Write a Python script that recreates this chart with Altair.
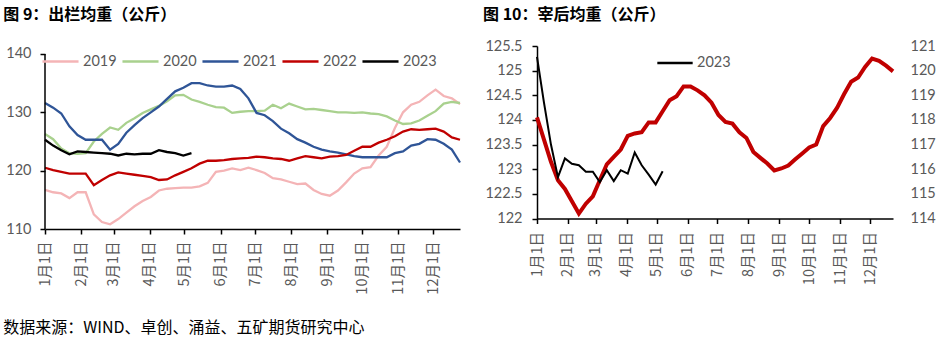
import json
import altair as alt
import pandas as pd

# ---------------- data ----------------
years = ["2019", "2020", "2021", "2022", "2023"]
year_colors = ["#F4B4B6", "#A9D18E", "#2F5597", "#C00000", "#000000"]

w2019 = [116.7, 116.3, 116.1, 115.3, 116.3, 116.3, 112.5, 111.2, 110.8, 111.7,
         112.8, 113.9, 114.8, 115.5, 116.6, 116.9, 117.0, 117.1, 117.1, 117.3,
         117.9, 119.8, 120.0, 120.4, 120.1, 120.5, 120.1, 119.6, 118.7, 118.5,
         118.1, 117.7, 117.8, 116.7, 116.0, 115.7, 116.6, 118.0, 119.5, 120.4,
         120.6, 122.6, 124.1, 127.3, 130.0, 131.3, 131.8, 132.9, 133.9, 132.8,
         132.4, 131.4]
w2020 = [126.3, 125.4, 123.8, 123.0, 122.9, 123.0, 125.0, 126.3, 127.4, 127.0,
         128.2, 129.0, 129.9, 130.5, 131.1, 131.9, 132.9, 133.0, 132.2, 131.8,
         131.3, 130.9, 130.8, 129.9, 130.1, 130.2, 130.2, 130.3, 131.3, 130.7,
         131.5, 131.0, 130.5, 130.6, 130.4, 130.2, 130.0, 130.0, 129.9, 130.0,
         129.8, 129.7, 129.3, 128.6, 128.0, 128.1, 128.6, 129.4, 130.2, 131.5,
         131.8, 131.6]
w2021 = [131.6, 130.8, 129.8, 127.6, 126.1, 125.3, 125.3, 125.3, 123.6, 124.6,
         126.5, 127.8, 129.0, 130.0, 131.0, 132.3, 133.6, 134.2, 135.0, 135.0,
         134.6, 134.4, 134.4, 134.6, 134.0, 132.4, 129.9, 129.5, 128.5, 127.2,
         126.4, 125.4, 124.8, 124.1, 123.6, 123.3, 123.1, 122.8, 122.5, 122.3,
         122.3, 122.3, 122.3, 123.0, 123.3, 124.3, 124.6, 125.4, 125.3, 124.6,
         123.6, 121.4]
w2022 = [120.5, 120.1, 119.8, 119.5, 119.5, 119.5, 117.5, 118.4, 119.2, 119.7,
         119.5, 119.3, 119.1, 118.9, 118.4, 118.5, 119.2, 119.8, 120.4, 121.2,
         121.7, 121.7, 121.8, 122.0, 122.1, 122.2, 122.4, 122.3, 122.1, 122.0,
         121.7, 122.1, 122.5, 122.3, 122.1, 122.4, 122.5, 122.7, 123.4, 124.1,
         124.1, 124.8, 125.3, 125.9, 126.7, 127.1, 127.0, 127.1, 127.2, 126.7,
         125.7, 125.3]
w2023 = [125.3, 124.3, 123.5, 122.8, 123.3, 123.2, 123.1, 123.0, 122.9, 122.6,
         122.9, 122.8, 122.9, 122.9, 123.5, 123.2, 123.0, 122.6, 123.0]

# 宰后均重
slaughter_2023 = [125.28, 124.35, 123.5, 122.84, 123.22, 123.11, 123.08, 122.95, 122.95, 122.74,
                  122.98, 122.76, 122.98, 122.91, 123.34, 123.08, 122.89, 122.69, 122.96]
slaughter_red = [118.1, 117.2, 116.3, 115.55, 115.2, 114.7, 114.2, 114.6, 114.9, 115.55,
                 116.2, 116.5, 116.8, 117.35, 117.45, 117.5, 117.9, 117.9, 118.35, 118.8,
                 118.96, 119.36, 119.36, 119.2, 119.0, 118.7, 118.2, 117.92, 117.85, 117.5,
                 117.27, 116.7, 116.46, 116.23, 115.95, 116.03, 116.15, 116.4, 116.64, 116.88,
                 117.0, 117.75, 118.08, 118.5, 119.05, 119.55, 119.72, 120.15, 120.49, 120.4,
                 120.2, 119.97]

# day-of-year of each weekly observation (week n falls on Jan 1 + 7n days)
obs_day = [7 * n for n in range(52)]
month_days = [0, 31, 59, 90, 120, 151, 181, 212, 243, 273, 304, 334]
month_labels = ["1月1日", "2月1日", "3月1日", "4月1日", "5月1日", "6月1日",
                "7月1日", "8月1日", "9月1日", "10月1日", "11月1日", "12月1日"]
left_ticks = [110, 115, 120, 125, 130, 135, 140]
right_left_ticks = [122, 122.5, 123, 123.5, 124, 124.5, 125, 125.5]
right_right_ticks = [114, 115, 116, 117, 118, 119, 120, 121]

title_left = "图 9：出栏均重（公斤）"
title_right = "图 10：宰后均重（公斤）"
source_text = "数据来源：WIND、卓创、涌益、五矿期货研究中心"

# ---------------- tables ----------------
rows = []
for yr, vals in zip(years, [w2019, w2020, w2021, w2022, w2023]):
    for d, v in zip(obs_day, vals):
        rows.append({"day": d, "value": v, "年份": yr})
left_df = pd.DataFrame(rows)

black_df = pd.DataFrame({"day": obs_day[:len(slaughter_2023)], "value": slaughter_2023,
                         "系列": ["2023"] * len(slaughter_2023)})
red_df = pd.DataFrame({"day": obs_day[:len(slaughter_red)], "value2": slaughter_red})

GRAY = "#595959"
NUM_FONT = "Lato"
CJK_FONT = "Noto Sans CJK SC"

label_expr = (json.dumps(month_labels, ensure_ascii=False)
              + "[indexof(" + json.dumps(month_days) + ", datum.value)]")


def x_axis(pad):
    return alt.Axis(values=month_days, labelExpr=label_expr, labelAngle=270,
                    labelFont=CJK_FONT, labelFontSize=14.5, labelColor=GRAY,
                    labelPadding=pad, labelOverlap=False, labelFlush=False,
                    tickSize=5, tickWidth=1.5, tickColor="black",
                    domainColor="black", domainWidth=1.5, grid=False, title=None)


x_scale = alt.Scale(domain=[0, 357], nice=False, zero=False)

# ---------------- left panel ----------------
LW, LH = 415, 183
lines_left = alt.Chart(left_df).mark_line(strokeWidth=2.3).encode(
    x=alt.X("day:Q", scale=x_scale, axis=x_axis(7)),
    y=alt.Y("value:Q", scale=alt.Scale(domain=[110, 141.37], nice=False, zero=False),
            axis=alt.Axis(values=left_ticks, domain=False, tickSize=5, tickWidth=1.5,
                          tickColor="black", labelFont=NUM_FONT, labelFontSize=14.5,
                          labelColor=GRAY, labelPadding=9, labelFlush=False,
                          grid=False, title=None)),
    color=alt.Color("年份:N", scale=alt.Scale(domain=years, range=year_colors),
                    legend=alt.Legend(orient="none", legendX=-4, legendY=-4,
                                      direction="horizontal", title=None,
                                      symbolType="stroke", symbolSize=1300,
                                      symbolStrokeWidth=2.5, labelFont=NUM_FONT,
                                      labelFontSize=14.5, labelColor=GRAY,
                                      labelOffset=3, columnPadding=0, padding=0)),
    detail="年份:N",
)
axis_line = alt.Chart(pd.DataFrame({"k": [0]})).mark_rule(color="black", strokeWidth=1.5).encode(
    x=alt.value(0), y=alt.datum(left_ticks[-1]), y2=alt.datum(left_ticks[0]))

title_l = alt.Chart(pd.DataFrame({"t": [title_left]})).mark_text(
    align="left", baseline="middle", font=CJK_FONT, fontSize=16, fontWeight="bold",
    color="black").encode(text="t:N", x=alt.value(-41.7), y=alt.value(-31))
source_l = alt.Chart(pd.DataFrame({"t": [source_text]})).mark_text(
    align="left", baseline="middle", font=CJK_FONT, fontSize=16,
    color="black").encode(text="t:N", x=alt.value(-41.7), y=alt.value(282))

left = alt.layer(lines_left, axis_line, title_l, source_l).properties(width=LW, height=LH)

# ---------------- right panel ----------------
RW, RH = 356, 172.5
red_line = alt.Chart(red_df).mark_line(color="#C00000", strokeWidth=4).encode(
    x=alt.X("day:Q", scale=x_scale, axis=x_axis(8)),
    y=alt.Y("value2:Q", scale=alt.Scale(domain=[114, 121], nice=False, zero=False),
            axis=alt.Axis(orient="right", values=right_right_ticks, domain=False,
                          ticks=False, tickSize=0, labelPadding=17, labelFont=NUM_FONT,
                          labelFontSize=14.5, labelColor=GRAY, labelFlush=False,
                          labelAlign="left", grid=False, title=None)),
)
black_line = alt.Chart(black_df).mark_line(strokeWidth=2).encode(
    x=alt.X("day:Q", scale=x_scale, axis=x_axis(8)),
    y=alt.Y("value:Q", scale=alt.Scale(domain=[122, 125.5], nice=False, zero=False),
            axis=alt.Axis(orient="left", values=right_left_ticks, format=".1~f",
                          domainColor="black", domainWidth=1.5, tickSize=5,
                          tickWidth=1.5, tickColor="black", labelFont=NUM_FONT,
                          labelFontSize=14.5, labelColor=GRAY, labelPadding=10,
                          labelFlush=False, grid=False, title=None)),
    color=alt.Color("系列:N", scale=alt.Scale(domain=["2023"], range=["#000000"]),
                    legend=alt.Legend(orient="none", legendX=119, legendY=-2,
                                      direction="horizontal", title=None,
                                      symbolType="stroke", symbolSize=1250,
                                      symbolStrokeWidth=2.5, labelFont=NUM_FONT,
                                      labelFontSize=14.5, labelColor=GRAY,
                                      labelOffset=3, padding=0)),
)
title_r = alt.Chart(pd.DataFrame({"t": [title_right]})).mark_text(
    align="left", baseline="middle", font=CJK_FONT, fontSize=16, fontWeight="bold",
    color="black").encode(text="t:N", x=alt.value(-54), y=alt.value(-31))

right = alt.layer(red_line, black_line, title_r).resolve_scale(y="independent").properties(
    width=RW, height=RH)

chart = alt.hconcat(left, right, spacing=77, bounds="flush").resolve_scale(
    color="independent").resolve_legend(color="independent").configure_view(
    stroke=None).properties(padding={"left": 3, "top": 7, "right": 5, "bottom": 5},
                            background="white")

chart.save("out.html", embed_options={"renderer": "svg", "actions": False})
